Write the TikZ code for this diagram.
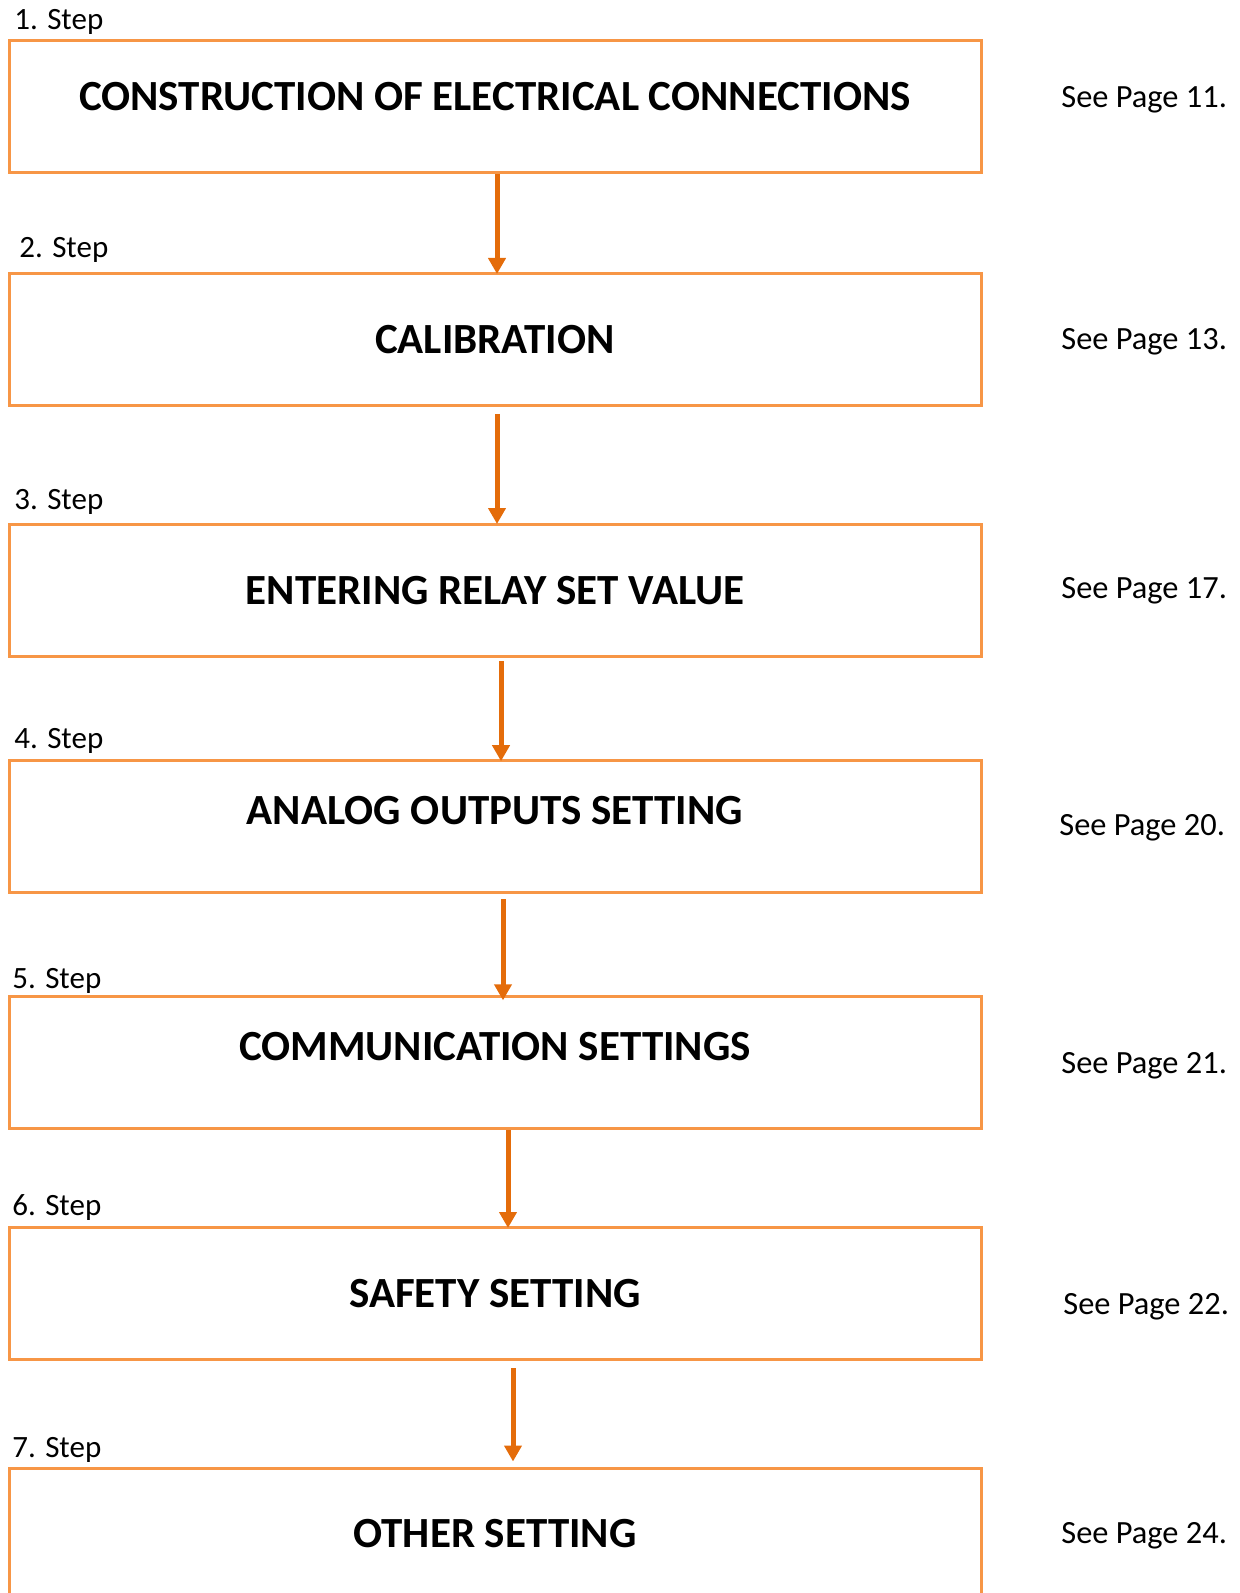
\documentclass[tikz,border=0pt]{standalone}
\usepackage{fontspec}
\setmainfont{Carlito}
\usepackage{xcolor}
\usetikzlibrary{arrows.meta, positioning}
\definecolor{boxorange}{HTML}{F79646}
\definecolor{arroworange}{HTML}{E46C0A}

\begin{document}
\begin{tikzpicture}[
  x=0.5pt, y=-0.5pt,
  stepbox/.style={rectangle,draw=boxorange,line width=1.5pt,minimum width=486pt,minimum height=66pt,inner sep=0pt},
  title/.style={font=\fontsize{21.5}{26}\selectfont\bfseries},
  steplabel/.style={anchor=west,inner sep=0pt,font=\fontsize{15.5}{18}\selectfont},
  pagelabel/.style={anchor=west,inner sep=0pt,font=\fontsize{16.2}{19}\selectfont},
  flow/.style={draw=arroworange,line width=2.5pt,-{Triangle[width=8.5pt,length=8pt]}}
]
\path[use as bounding box, clip] (0,0) rectangle (1240,1593);

% Draw step boxes
\foreach \i/\y in {1/107, 2/339.5, 3/590.5, 4/826.7, 5/1062.8, 6/1293.5, 7/1534} {
  \node[stepbox] (box\i) at (495, \y) {};
}

% Step numbers above the boxes
\foreach \i/\x/\y in {1/14/22, 2/19/250, 3/14/502, 4/14/741, 5/12/981, 6/12/1208, 7/12/1450} {
  \node[steplabel] (step\i) at (\x, \y) {\i. Step};
}

% Titles inside the boxes
\foreach \i/\dy/\txt in {1/5/CONSTRUCTION OF ELECTRICAL CONNECTIONS, 2/0/CALIBRATION,
    3/0/ENTERING RELAY SET VALUE, 4/8/ANALOG OUTPUTS SETTING, 5/8/COMMUNICATION SETTINGS,
    6/0/SAFETY SETTING, 7/0/OTHER SETTING} {
  \node[title] (title\i) at ([yshift=\dy pt]box\i.center) {\txt};
}

% Page references
\foreach \i/\x/\y/\pg in {1/1061/100/11, 2/1061/341.5/13, 3/1061/590.5/17, 4/1059/827.5/20,
    5/1061/1065.5/21, 6/1063/1306.5/22, 7/1061/1536/24} {
  \node[pagelabel] (page\i) at (\x, \y) {See Page \pg.};
}

% Arrows between the steps
\draw[flow, shorten >=-1pt] ([xshift=1pt]box1.south) -- ([xshift=1pt]box2.north);
\draw[flow, shorten <=3.5pt, shorten >=-0.5pt] ([xshift=1pt]box2.south) -- ([xshift=1pt]box3.north);
\draw[flow, shorten <=1.5pt, shorten >=-1pt] ([xshift=3pt]box3.south) -- ([xshift=3pt]box4.north);
\draw[flow, shorten <=2.5pt, shorten >=-2.5pt] ([xshift=4pt]box4.south) -- ([xshift=4pt]box5.north);
\draw[flow, shorten >=-1pt] ([xshift=6.5pt]box5.south) -- ([xshift=6.5pt]box6.north);
\draw[flow, shorten <=3.5pt, shorten >=2.5pt] ([xshift=9pt]box6.south) -- ([xshift=9pt]box7.north);

\end{tikzpicture}
\end{document}
